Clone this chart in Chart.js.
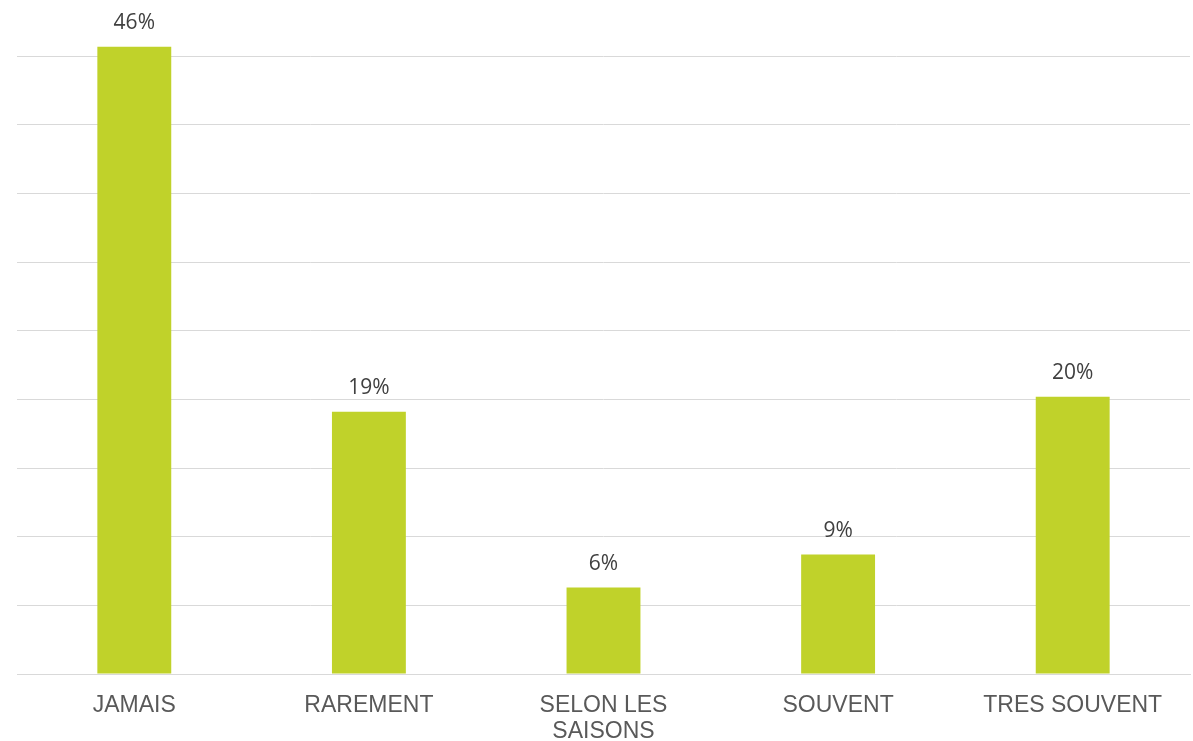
<!DOCTYPE html>
<html>
<head>
<meta charset="utf-8">
<script src="https://cdn.jsdelivr.net/npm/chart.js@4/dist/chart.umd.min.js"></script>
<style>
  html, body { margin: 0; padding: 0; background: #fff; }
  #wrap { width: 1193px; height: 741px; }
</style>
</head>
<body>
<div id="wrap"><canvas id="chart"></canvas></div>
<script>
// Fréquence — bar chart, percentages
const categories = ["JAMAIS", "RAREMENT", ["SELON LES", "SAISONS"], "SOUVENT", "TRES SOUVENT"];
const values     = [45.7, 19.1, 6.3, 8.7, 20.2];
const valueLabels = ["46%", "19%", "6%", "9%", "20%"];
const gridTicks  = [0, 5, 10, 15, 20, 25, 30, 35, 40, 45];

// draws the % labels above each bar
const barLabels = {
  id: "barLabels",
  afterDatasetsDraw(chart) {
    const ctx  = chart.ctx;
    const meta = chart.getDatasetMeta(0);
    ctx.save();
    ctx.fillStyle = "#404040";
    ctx.font = "21px 'Open Sans', sans-serif";
    ctx.textAlign = "center";
    ctx.textBaseline = "middle";
    meta.data.forEach((bar, i) => {
      ctx.fillText(valueLabels[i], bar.x, bar.y - 24);
    });
    ctx.restore();
  },
};

new Chart(document.getElementById("chart"), {
  type: "bar",
  data: {
    labels: categories,
    datasets: [{
      data: values,
      backgroundColor: "#c0d22a",
      borderWidth: 0,
      categoryPercentage: 1,
      barPercentage: 0.315,
    }],
  },
  options: {
    responsive: true,
    maintainAspectRatio: false,
    animation: false,
    layout: { padding: { left: 17, right: 3, top: 11, bottom: 0 } },
    plugins: { legend: { display: false }, tooltip: { enabled: false } },
    scales: {
      x: {
        afterFit: (axis) => { axis.height = 67; },
        grid: { display: false },
        border: { color: "#d9d9d9", width: 1 },
        ticks: {
          color: "#595959",
          font: { family: "'Liberation Sans', Arial, sans-serif", size: 23, lineHeight: 1.15 },
          padding: 10,
          maxRotation: 0,
          autoSkip: false,
        },
      },
      y: {
        min: 0,
        max: 48.3,
        afterBuildTicks: (axis) => { axis.ticks = gridTicks.map((v) => ({ value: v })); },
        grid: { color: "#d9d9d9", lineWidth: 1, drawTicks: false },
        border: { display: false },
        ticks: { display: false },
      },
    },
  },
  plugins: [barLabels],
});
</script>
</body>
</html>
